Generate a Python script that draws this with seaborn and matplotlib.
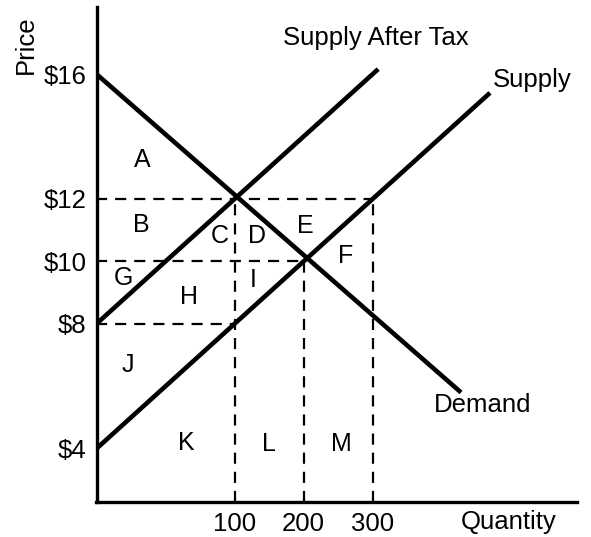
import pandas as pd
import matplotlib.pyplot as plt
import seaborn as sns

sns.set_style("white")
plt.rcParams['font.family'] = ['Liberation Sans', 'DejaVu Sans']
plt.rcParams['text.color'] = 'black'
plt.rcParams['xtick.color'] = 'black'
plt.rcParams['ytick.color'] = 'black'

# axis ticks
quantity_ticks = [100, 200, 300]
price_ticks = [4, 8, 10, 12, 16]
price_labels = ["\\$4", "\\$8", "\\$10", "\\$12", "\\$16"]

# curves (quantity, price); the price axis starts at quantity -100 in this sketch
demand_q = [-100, 428]
demand_p = [16, 5.8]
supply_q = [-100, 470]
supply_p = [4, 15.4]
tax_q = [-100, 308]
tax_p = [8, 16.16]

# dashed guide lines
vguide_q = [100, 200, 300]
vguide_p = [12, 10, 12]
hguide_p = [12, 10, 8]
hguide_q = [300, 200, 100]

# area letters
areas = ["A", "B", "C", "D", "E", "F", "G", "H", "I", "J", "K", "L", "M"]
area_q = [-34, -35, 79, 132, 203, 261, -61, 34, 127, -54, 30, 150, 254]
area_p = [13.25, 11.17, 10.81, 10.81, 11.13, 10.17, 9.47, 8.86, 9.40, 6.68, 4.18, 4.14, 4.14]

curves = pd.concat([
    pd.DataFrame({"Quantity": demand_q, "Price": demand_p, "curve": "Demand"}),
    pd.DataFrame({"Quantity": supply_q, "Price": supply_p, "curve": "Supply"}),
    pd.DataFrame({"Quantity": tax_q, "Price": tax_p, "curve": "Supply After Tax"}),
])

fig = plt.figure(figsize=(5.91, 5.37), dpi=100)
ax = fig.add_axes([96.5 / 591, 35 / 537, 480.5 / 591, 495 / 537])
x_lo, x_hi = -100, 596
y_lo, y_hi = 2.29, 18.15

for name, grp in curves.groupby("curve"):
    sns.lineplot(data=grp, x="Quantity", y="Price", color="black", lw=3.3,
                 ax=ax, estimator=None, sort=False, solid_capstyle="butt")

dash = dict(color="black", lw=1.6, linestyles=(0, (5, 3.6)))
ax.hlines(hguide_p, x_lo, hguide_q, **dash)
ax.vlines(vguide_q, y_lo, vguide_p, **dash)

for a, q, p in zip(areas, area_q, area_p):
    ax.text(q, p, a, fontsize=18, ha="center", va="center")

ax.text(304, 17.16, "Supply After Tax", fontsize=18.5, ha="center", va="center")
ax.text(474, 15.8, "Supply", fontsize=18.5, ha="left", va="center")
ax.text(459, 5.4, "Demand", fontsize=18.5, ha="center", va="center")

ax.set_xlim(x_lo, x_hi)
ax.set_ylim(y_lo, y_hi)
ax.set_xticks(quantity_ticks)
ax.set_xticklabels([str(q) for q in quantity_ticks])
ax.set_yticks(price_ticks)
ax.set_yticklabels(price_labels)
ax.tick_params(length=0, labelsize=18.5, pad=7)
ax.set_xlabel("")
ax.set_ylabel("")
sns.despine(ax=ax)
for s in ["left", "bottom"]:
    ax.spines[s].set_linewidth(2.4)
    ax.spines[s].set_color("black")

fig.text(509 / 591, 1 - 522 / 537, "Quantity", fontsize=18.5, ha="center", va="center")
fig.text(26 / 591, 1 - 45 / 537, "Price", fontsize=18.5, rotation=90, ha="center", va="center")

fig.savefig("out.png", dpi=100)
